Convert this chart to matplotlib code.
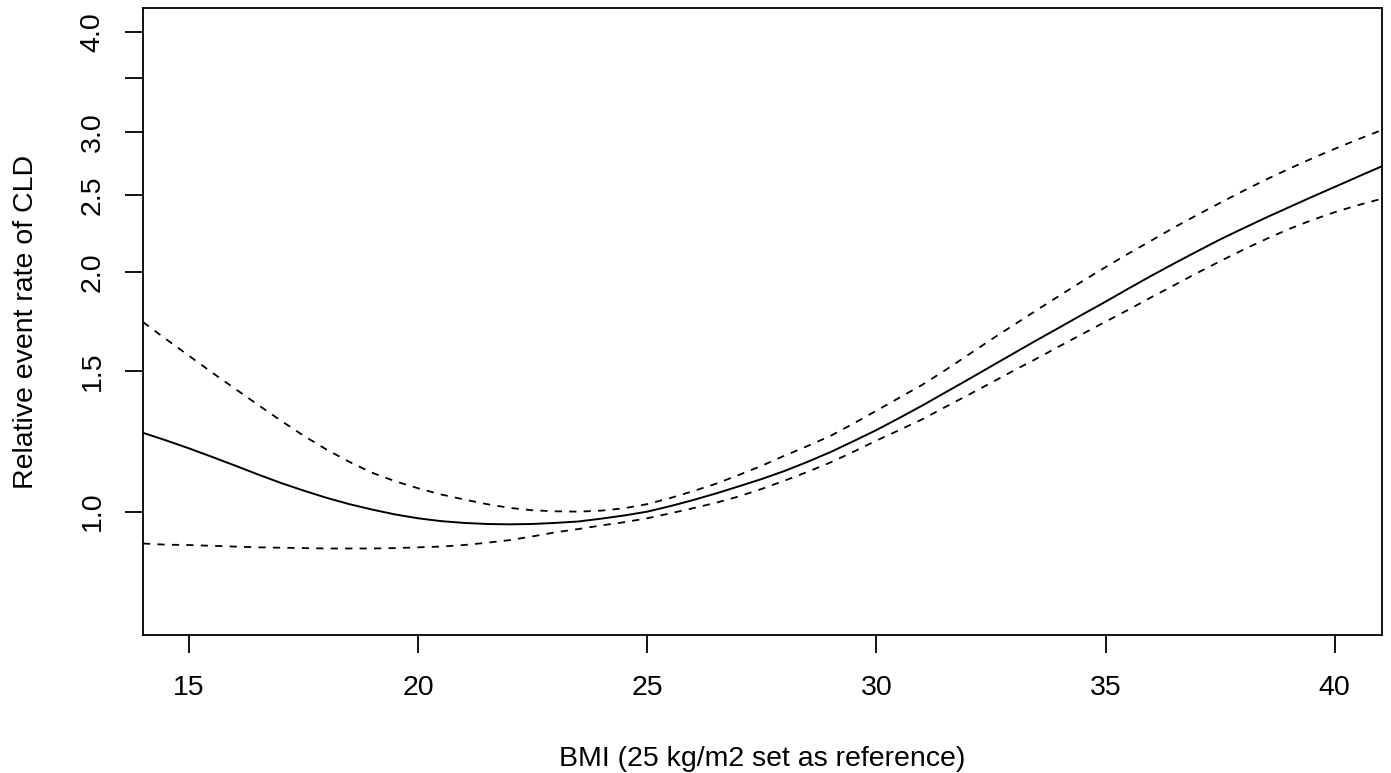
import numpy as np
import matplotlib
matplotlib.use("Agg")
import matplotlib.pyplot as plt

# =========================================================
# DATA (every 0.5 BMI)
# =========================================================

bmi = [14.0, 14.5, 15.0, 15.5, 16.0, 16.5, 17.0, 17.5, 18.0, 18.5,
       19.0, 19.5, 20.0, 20.5, 21.0, 21.5, 22.0, 22.5, 23.0, 23.5,
       24.0, 24.5, 25.0, 25.5, 26.0, 26.5, 27.0, 27.5, 28.0, 28.5,
       29.0, 29.5, 30.0, 30.5, 31.0, 31.5, 32.0, 32.5, 33.0, 33.5,
       34.0, 34.5, 35.0, 35.5, 36.0, 36.5, 37.0, 37.5, 38.0, 38.5,
       39.0, 39.5, 40.0, 40.5, 41.0]

# relative event rate (solid line)
rr_fit = [1.256, 1.229, 1.201, 1.172, 1.143, 1.114, 1.087, 1.063, 1.041, 1.022,
          1.006, 0.992, 0.981, 0.973, 0.968, 0.965, 0.964, 0.965, 0.968, 0.972,
          0.980, 0.989, 1.000, 1.016, 1.034, 1.054, 1.076, 1.099, 1.125, 1.155,
          1.188, 1.226, 1.266, 1.311, 1.359, 1.411, 1.465, 1.522, 1.581, 1.642,
          1.704, 1.769, 1.835, 1.906, 1.978, 2.050, 2.123, 2.197, 2.268, 2.340,
          2.411, 2.484, 2.557, 2.633, 2.710]

# upper 95% CI (dashed)
rr_upper = [1.730, 1.647, 1.570, 1.496, 1.428, 1.363, 1.302, 1.246, 1.197, 1.155,
            1.119, 1.092, 1.070, 1.051, 1.036, 1.022, 1.011, 1.004, 1.001, 1.000,
            1.003, 1.010, 1.022, 1.040, 1.061, 1.084, 1.112, 1.142, 1.176, 1.209,
            1.245, 1.290, 1.339, 1.390, 1.443, 1.505, 1.573, 1.644, 1.716, 1.791,
            1.868, 1.948, 2.028, 2.109, 2.190, 2.275, 2.358, 2.442, 2.527, 2.612,
            2.694, 2.776, 2.855, 2.933, 3.010]

# lower 95% CI (dashed)
rr_lower = [0.912, 0.909, 0.908, 0.906, 0.904, 0.902, 0.901, 0.900, 0.899, 0.899,
            0.899, 0.900, 0.902, 0.904, 0.908, 0.914, 0.921, 0.931, 0.942, 0.951,
            0.961, 0.970, 0.981, 0.995, 1.010, 1.026, 1.045, 1.068, 1.094, 1.122,
            1.153, 1.189, 1.228, 1.266, 1.306, 1.353, 1.401, 1.451, 1.504, 1.557,
            1.614, 1.672, 1.732, 1.793, 1.859, 1.925, 1.994, 2.063, 2.132, 2.199,
            2.264, 2.323, 2.377, 2.425, 2.469]

x_ticks = [15, 20, 25, 30, 35, 40]
y_ticks = [1.0, 1.5, 2.0, 2.5, 3.0, 3.5, 4.0]
y_tick_labels = ["1.0", "1.5", "2.0", "2.5", "3.0", "", "4.0"]

# =========================================================
# PLOT
# =========================================================

plt.rcParams["font.family"] = ["Liberation Sans", "DejaVu Sans"]

fig = plt.figure(figsize=(13.91, 7.73), dpi=100)
ax = fig.add_axes([0.1028, 0.1785, 0.8907, 0.8112])

ax.plot(bmi, rr_fit, color="black", lw=1.4)
ax.plot(bmi, rr_upper, color="black", lw=1.3, dashes=(4, 4))
ax.plot(bmi, rr_lower, color="black", lw=1.3, dashes=(4, 4))

ax.set_yscale("log")
ax.set_xlim(14, 41.03)
ax.set_ylim(0.70, 4.29)

ax.set_xticks(x_ticks)
ax.set_xticklabels([str(t) for t in x_ticks])
ax.set_yticks(y_ticks)
ax.set_yticklabels(y_tick_labels, rotation=90, va="center")
ax.minorticks_off()

ax.tick_params(axis="both", direction="out", length=13, width=1.3,
               labelsize=20.5, color="black")
ax.tick_params(axis="x", pad=16)
ax.tick_params(axis="y", pad=14)

for sp in ax.spines.values():
    sp.set_linewidth(1.3)

ax.set_xlabel("BMI (25 kg/m2 set as reference)", fontsize=20.5, labelpad=32)
ax.set_ylabel("Relative event rate of CLD", fontsize=20.5, labelpad=29)

fig.savefig("out.png", dpi=100)
